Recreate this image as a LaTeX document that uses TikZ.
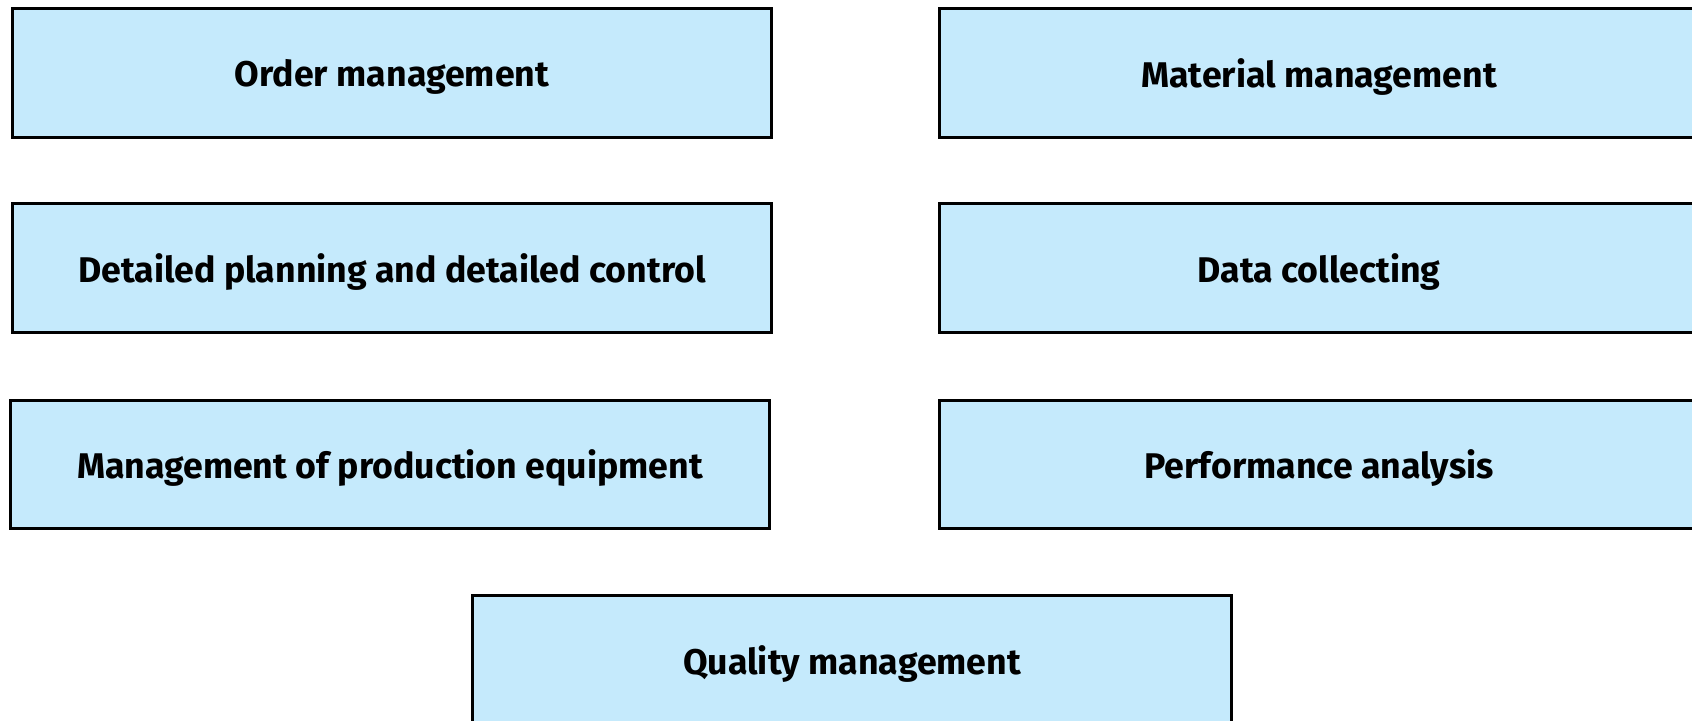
\documentclass[tikz,border=0pt]{standalone}
\usepackage{fontspec}
\setmainfont{Fira Sans}
\definecolor{boxblue}{RGB}{197,234,252}
\tikzset{
  funcbox/.style={draw=black,line width=0.85pt,fill=boxblue,minimum width=7.58cm,
    minimum height=1.28cm,inner sep=0pt,text depth=0pt,
    font=\fontsize{10.15}{12}\selectfont\bfseries}
}
\begin{document}
\begin{tikzpicture}[x=0.01cm,y=-0.01cm]
    \useasboundingbox (0,0) rectangle (1692,720);
    % linke Spalte
    \node[funcbox] (order)   at (392,73)    {Order management};
    \node[funcbox] (plan)    at (392,268)   {Detailed planning and detailed control};
    \node[funcbox] (equip)   at (390,464.5) {Management of production equipment};
    % rechte Spalte
    \node[funcbox] (mat)     at (1319,73)    {Material management};
    \node[funcbox] (data)    at (1319,268)   {Data collecting};
    \node[funcbox] (perf)    at (1319,464.5) {Performance analysis};
    % unten
    \node[funcbox] (quality) at (852,660) {Quality management};
\end{tikzpicture}
\end{document}
